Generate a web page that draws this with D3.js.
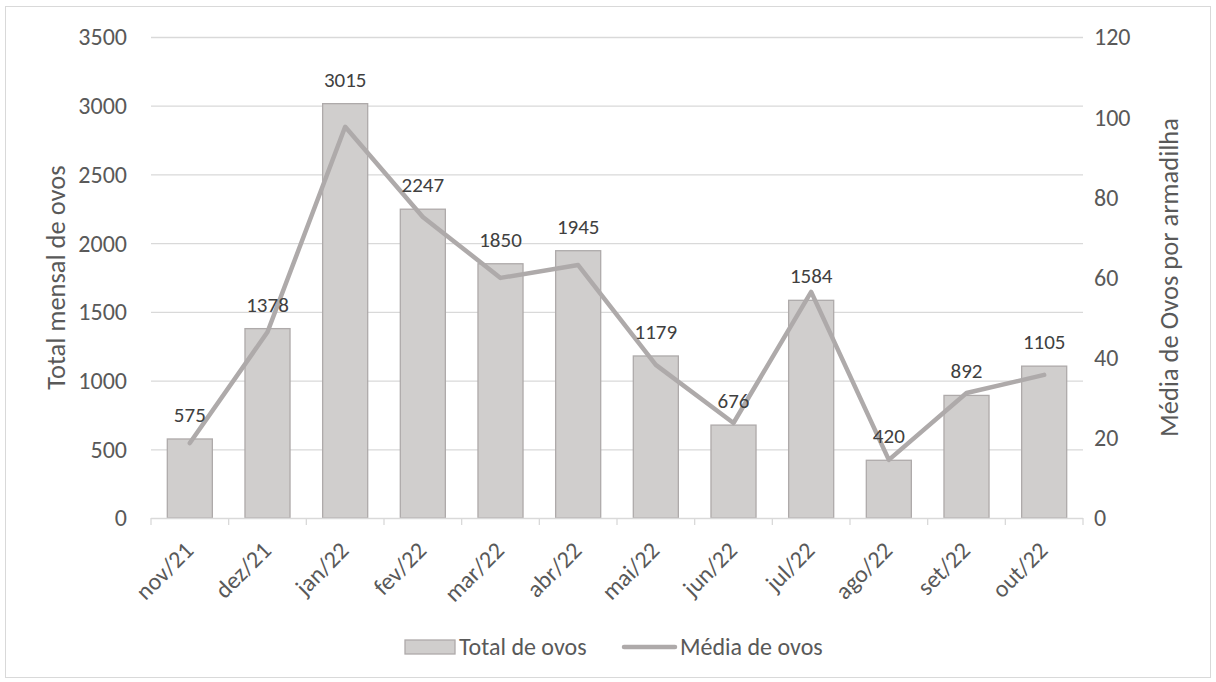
<!DOCTYPE html>
<html><head><meta charset="utf-8">
<script src="https://cdn.jsdelivr.net/npm/d3@7"></script>
<style>body{margin:0;background:#fff;font-family:Calibri,Carlito,Lato,sans-serif;}</style>
</head><body>
<svg id="c" width="1216" height="682"></svg>
<script>
const categories = ["nov/21","dez/21","jan/22","fev/22","mar/22","abr/22","mai/22","jun/22","jul/22","ago/22","set/22","out/22"];
const totalOvos = [575,1378,3015,2247,1850,1945,1179,676,1584,420,892,1105];
const mediaOvos = [18.7,46.4,97.6,75.1,59.9,63.1,38.2,23.7,56.4,14.5,31.2,35.7];
const leftTicks = [0,500,1000,1500,2000,2500,3000,3500];
const rightTicks = [0,20,40,60,80,100,120];

const svg = d3.select("#c");
const font = "Calibri, Carlito, Lato, sans-serif";
const txt = "#595959";
svg.append("rect").attr("x",5.5).attr("y",6.5).attr("width",1205).attr("height",671)
  .attr("fill","#fff").attr("stroke","#d9d9d9");

const L=151, R=1083, T=37, B=518;
const x = d3.scaleBand().domain(categories).range([L,R]).paddingInner(0.42).paddingOuter(0.21);
const xb = d3.scaleBand().domain(categories).range([L,R]);
const yL = d3.scaleLinear().domain([0,3500]).range([B,T]);
const yR = d3.scaleLinear().domain([0,120]).range([B,T]);

// gridlines
svg.append("g").selectAll("line").data(leftTicks.slice(1)).join("line")
  .attr("x1",L).attr("x2",R).attr("y1",d=>yL(d)+0.5).attr("y2",d=>yL(d)+0.5)
  .attr("stroke","#d9d9d9").attr("stroke-width",1.3);

// bars
svg.append("g").selectAll("rect").data(totalOvos).join("rect")
  .attr("x",(d,i)=>x(categories[i])).attr("width",x.bandwidth())
  .attr("y",d=>yL(d)).attr("height",d=>B-yL(d))
  .attr("fill","#d0cecd").attr("stroke","#aeaaaa").attr("stroke-width",1.3);

// x axis line & ticks
svg.append("line").attr("x1",L).attr("x2",R).attr("y1",B+0.5).attr("y2",B+0.5).attr("stroke","#d9d9d9").attr("stroke-width",1.3);
const bounds = categories.map(c=>xb(c)).concat([R]);
svg.append("g").selectAll("line").data(bounds).join("line")
  .attr("x1",d=>d).attr("x2",d=>d).attr("y1",B).attr("y2",B+7).attr("stroke","#d9d9d9").attr("stroke-width",1.3);

// line
const line = d3.line().x((d,i)=>xb(categories[i])+xb.bandwidth()/2).y(d=>yR(d));
svg.append("path").datum(mediaOvos).attr("d",line).attr("fill","none")
  .attr("stroke","#aeaaaa").attr("stroke-width",4.5).attr("stroke-linejoin","round").attr("stroke-linecap","round");

// bar labels
svg.append("g").selectAll("text").data(totalOvos).join("text")
  .attr("x",(d,i)=>xb(categories[i])+xb.bandwidth()/2).attr("y",d=>yL(d)-17)
  .attr("text-anchor","middle").attr("font-family",font).attr("font-size",21).attr("fill","#404040")
  .text(d=>d);

// left ticks
svg.append("g").selectAll("text").data(leftTicks).join("text")
  .attr("x",127).attr("y",d=>yL(d)).attr("dy","0.35em").attr("text-anchor","end")
  .attr("font-family",font).attr("font-size",24).attr("fill",txt).text(d=>d);
// right ticks
svg.append("g").selectAll("text").data(rightTicks).join("text")
  .attr("x",1094).attr("y",d=>yR(d)).attr("dy","0.35em").attr("text-anchor","start")
  .attr("font-family",font).attr("font-size",24).attr("fill",txt).text(d=>d);

// x labels
svg.append("g").selectAll("text").data(categories).join("text")
  .attr("transform",c=>`translate(${xb(c)+xb.bandwidth()/2+5},${B+34}) rotate(-45)`)
  .attr("text-anchor","end")
  .attr("font-family",font).attr("font-size",24).attr("fill",txt).text(d=>d);

// axis titles
svg.append("text").attr("transform",`translate(65,${(T+B)/2}) rotate(-90)`).attr("text-anchor","middle")
  .attr("font-family",font).attr("font-size",26.5).attr("fill",txt).text("Total mensal de ovos");
svg.append("text").attr("transform",`translate(1178,${(T+B)/2}) rotate(-90)`).attr("text-anchor","middle")
  .attr("font-family",font).attr("font-size",26.5).attr("fill",txt).text("Média de Ovos por armadilha");

// legend
const LY = 647;
const lg = svg.append("g");
lg.append("rect").attr("x",405).attr("y",LY-7).attr("width",50).attr("height",14)
  .attr("fill","#d0cecd").attr("stroke","#aeaaaa").attr("stroke-width",1.3);
lg.append("text").attr("x",459).attr("y",LY).attr("dy","0.35em").attr("font-family",font).attr("font-size",24).attr("fill",txt).text("Total de ovos");
lg.append("line").attr("x1",624).attr("x2",675).attr("y1",LY).attr("y2",LY).attr("stroke","#aeaaaa").attr("stroke-width",4.5).attr("stroke-linecap","round");
lg.append("text").attr("x",680).attr("y",LY).attr("dy","0.35em").attr("font-family",font).attr("font-size",24).attr("fill",txt).text("Média de ovos");
</script>
</body></html>
